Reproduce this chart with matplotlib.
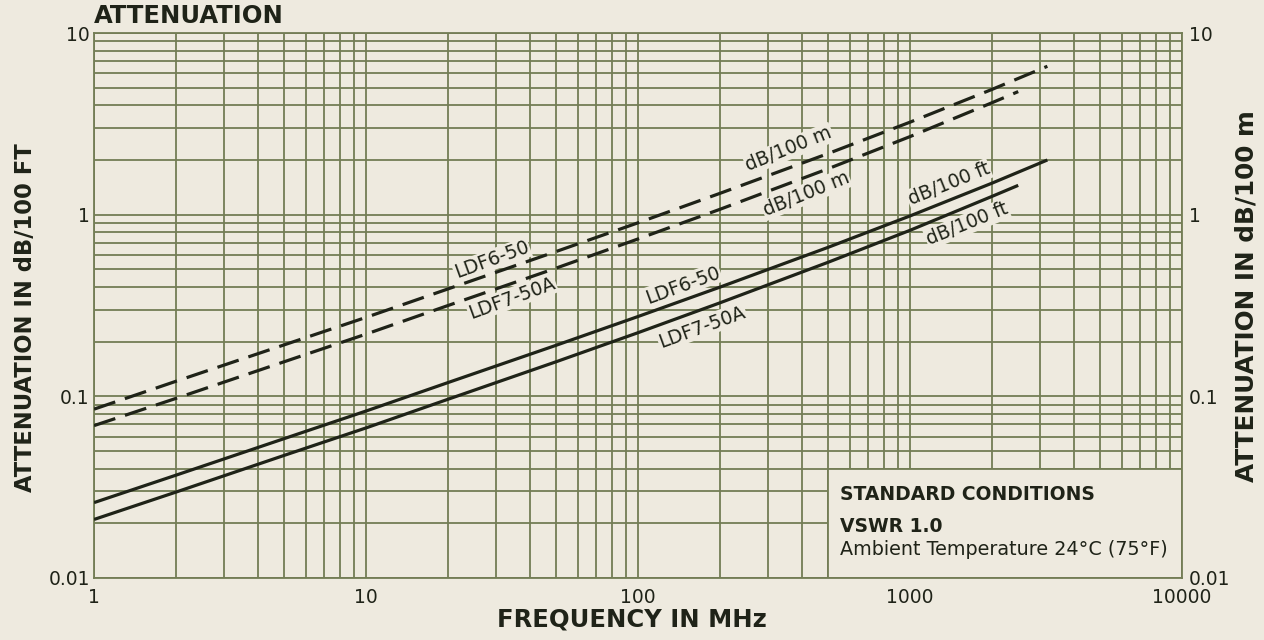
import matplotlib
matplotlib.use("Agg")
import matplotlib.pyplot as plt
from matplotlib.ticker import FixedLocator, FixedFormatter, NullFormatter, LogLocator
from matplotlib.patches import Rectangle

# ---- data ----
freq_ldf6 = [1, 2, 5, 10, 20, 50, 100, 200, 500, 1000, 2000, 3200]
ldf6_ft = [0.026, 0.0368, 0.0585, 0.083, 0.119, 0.191, 0.275, 0.399, 0.661, 0.984, 1.49, 2.0]
ldf6_m = [0.085, 0.121, 0.192, 0.272, 0.390, 0.627, 0.902, 1.31, 2.17, 3.23, 4.89, 6.56]

freq_ldf7 = [1, 2, 5, 10, 20, 50, 100, 200, 500, 1000, 2000, 2500]
ldf7_ft = [0.021, 0.0297, 0.0473, 0.067, 0.0963, 0.155, 0.224, 0.327, 0.547, 0.82, 1.26, 1.45]
ldf7_m = [0.069, 0.0974, 0.155, 0.220, 0.316, 0.508, 0.735, 1.07, 1.79, 2.69, 4.13, 4.76]

x_ticks = [1, 10, 100, 1000, 10000]
x_ticklabels = ["1", "10", "100", "1000", "10000"]
y_ticks = [0.01, 0.1, 1, 10]
y_ticklabels = ["0.01", "0.1", "1", "10"]

# ---- style ----
BG = "#eeeadf"
GRID = "#737d55"
INK = "#1f2318"
FONT = "DejaVu Sans"

plt.rcParams["font.family"] = [FONT]

fig = plt.figure(figsize=(12.64, 6.4), dpi=100, facecolor=BG)
ax = fig.add_axes([0.0744, 0.0969, 0.8607, 0.8515])
ax.set_facecolor(BG)
ax.set_xscale("log")
ax.set_yscale("log")
ax.set_xlim(1, 10000)
ax.set_ylim(0.01, 10)

ax.xaxis.set_major_locator(FixedLocator(x_ticks))
ax.xaxis.set_major_formatter(FixedFormatter(x_ticklabels))
ax.yaxis.set_major_locator(FixedLocator(y_ticks))
ax.yaxis.set_major_formatter(FixedFormatter(y_ticklabels))
ax.xaxis.set_minor_locator(LogLocator(base=10, subs=range(2, 10)))
ax.yaxis.set_minor_locator(LogLocator(base=10, subs=range(2, 10)))
ax.xaxis.set_minor_formatter(NullFormatter())
ax.yaxis.set_minor_formatter(NullFormatter())

ax.grid(True, which="both", color=GRID, lw=1.3, zorder=0)
ax.set_axisbelow(True)
for s in ax.spines.values():
    s.set_color(GRID)
    s.set_linewidth(1.3)

ax.tick_params(which="both", length=0)
ax.tick_params(axis="x", pad=7, labelsize=13.5, colors=INK)
ax.tick_params(axis="y", pad=3, labelsize=13.5, colors=INK)

# curves
lw = 2.3
ax.plot(freq_ldf6, ldf6_ft, color=INK, lw=lw, solid_capstyle="butt", zorder=3)
ax.plot(freq_ldf7, ldf7_ft, color=INK, lw=lw, solid_capstyle="butt", zorder=3)
ax.plot(freq_ldf6, ldf6_m, color=INK, lw=lw, linestyle=(0, (7, 3.2)),
        dash_capstyle="butt", zorder=3)
ax.plot(freq_ldf7, ldf7_m, color=INK, lw=lw, linestyle=(0, (7, 3.2)),
        dash_capstyle="butt", zorder=3)

# line labels
labels = [
    ("LDF6-50", 29.0, 0.564, 20),
    ("LDF7-50A", 34.4, 0.348, 20),
    ("LDF6-50", 146, 0.410, 20),
    ("LDF7-50A", 172, 0.241, 20),
    ("dB/100 m", 359, 2.30, 22),
    ("dB/100 m", 415, 1.30, 22),
    ("dB/100 ft", 1390, 1.475, 22),
    ("dB/100 ft", 1622, 0.889, 22),
]
for txt, x, y, rot in labels:
    ax.text(x, y, txt, rotation=rot, rotation_mode="anchor", ha="center", va="center",
            fontsize=13.5, color=INK, zorder=4,
            bbox=dict(boxstyle="square,pad=0.05", facecolor=BG, edgecolor="none"))

# standard conditions box
ax.add_patch(Rectangle((500, 0.01), 10000 - 500, 0.04 - 0.01, facecolor=BG,
                       edgecolor=GRID, lw=1.3, zorder=2))
ax.text(0.6857, 0.154, "STANDARD CONDITIONS", transform=ax.transAxes, ha="left",
        va="center", fontsize=13.5, fontweight="bold", color=INK, zorder=5)
ax.text(0.6857, 0.0936, "VSWR 1.0", transform=ax.transAxes, ha="left",
        va="center", fontsize=13.5, fontweight="bold", color=INK, zorder=5)
ax.text(0.6857, 0.0514, "Ambient Temperature 24°C (75°F)", transform=ax.transAxes,
        ha="left", va="center", fontsize=13.8, color=INK, zorder=5)

# right axis
ax2 = ax.twinx()
ax2.set_yscale("log")
ax2.set_ylim(0.01, 10)
ax2.yaxis.set_major_locator(FixedLocator(y_ticks))
ax2.yaxis.set_major_formatter(FixedFormatter(y_ticklabels))
ax2.yaxis.set_minor_locator(LogLocator(base=10, subs=range(2, 10)))
ax2.yaxis.set_minor_formatter(NullFormatter())
ax2.tick_params(which="both", length=0)
ax2.tick_params(axis="y", pad=5, labelsize=13.5, colors=INK)
for s in ax2.spines.values():
    s.set_visible(False)

# axis titles
fig.text(94 / 1264, 1 - 16 / 640, "ATTENUATION", ha="left", va="center",
         fontsize=17.5, fontweight="bold", color=INK)
fig.text(26 / 1264, 1 - 318 / 640, "ATTENUATION IN dB/100 FT", rotation=90,
         ha="center", va="center", fontsize=16.3, fontweight="bold", color=INK)
fig.text(1247 / 1264, 1 - 296 / 640, "ATTENUATION IN dB/100 m", rotation=90,
         ha="center", va="center", fontsize=17.8, fontweight="bold", color=INK)
fig.text(632 / 1264, 1 - 620 / 640, "FREQUENCY IN MHz", ha="center", va="center",
         fontsize=17.5, fontweight="bold", color=INK)

fig.savefig("out.png", dpi=100, facecolor=BG)
